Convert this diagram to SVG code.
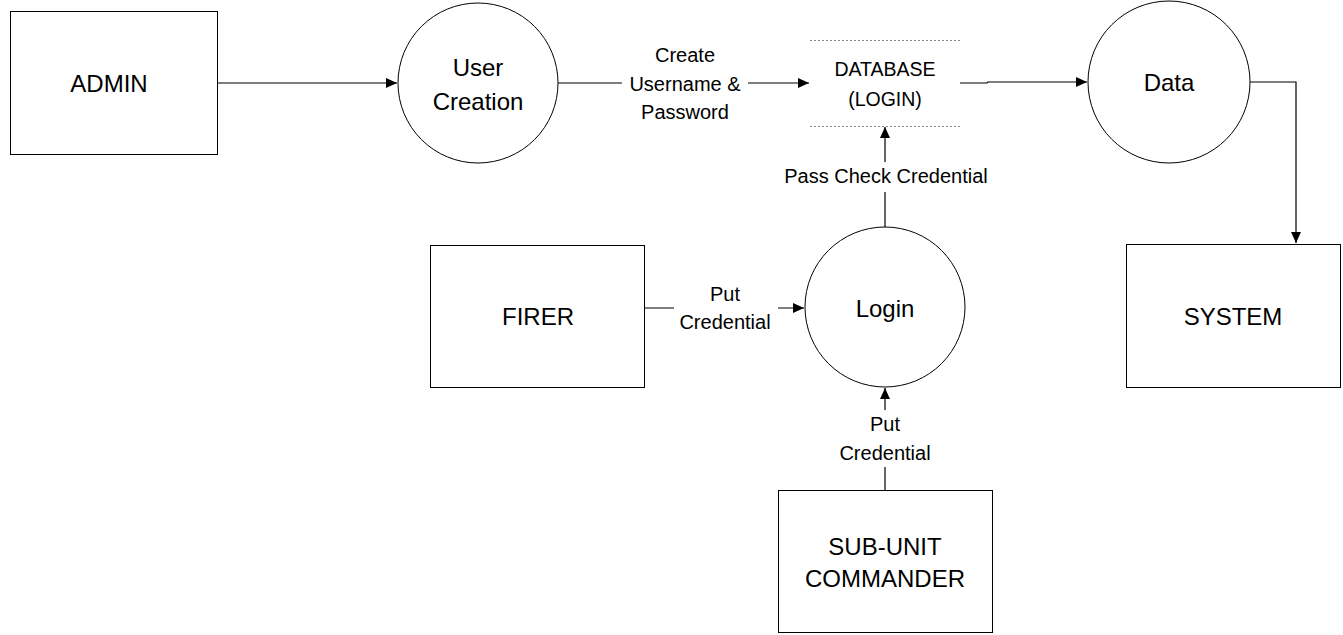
<svg xmlns="http://www.w3.org/2000/svg" width="1343" height="635" viewBox="0 0 1343 635">
<defs>
<marker id="arr" markerWidth="12" markerHeight="10" refX="11" refY="5" orient="auto" markerUnits="userSpaceOnUse">
<path d="M0,0 L11,5 L0,10 Z" fill="#000"/>
</marker>
<style>
.box{fill:#fff;stroke:#000;stroke-width:1}
.big{font-family:"Liberation Sans",Arial,sans-serif;font-size:24px;fill:#000;text-anchor:middle;dominant-baseline:central}
.lbl{font-family:"Liberation Sans",Arial,sans-serif;font-size:20px;fill:#000;text-anchor:middle;dominant-baseline:central}
.db{font-family:"Liberation Sans",Arial,sans-serif;font-size:19.5px;fill:#000;text-anchor:middle;dominant-baseline:central}
.ln{fill:none;stroke:#000;stroke-width:1.2}
.dash{stroke:#888;stroke-width:1;stroke-dasharray:2,2}
.bg{fill:#fff}
</style>
</defs>
<rect width="1343" height="635" fill="#fff"/>
<g id="connectors">
<line class="ln" x1="217" y1="83" x2="397" y2="83" marker-end="url(#arr)"/>
<line class="ln" x1="558" y1="83" x2="809" y2="83" marker-end="url(#arr)"/>
<rect class="bg" x="622" y="42" width="126" height="84"/>
<text class="lbl" x="685" y="55">Create</text>
<text class="lbl" x="685" y="84">Username &amp;</text>
<text class="lbl" x="685" y="112">Password</text>
<polyline class="ln" points="960,83 987,83 988,82 1087,82" marker-end="url(#arr)"/>
<polyline class="ln" points="1250,82 1296,82 1296,243" marker-end="url(#arr)"/>
<line class="ln" x1="645" y1="308" x2="804" y2="308" marker-end="url(#arr)"/>
<rect class="bg" x="674" y="281" width="104" height="55"/>
<text class="lbl" x="725" y="294">Put</text>
<text class="lbl" x="725" y="322">Credential</text>
<line class="ln" x1="885" y1="227" x2="885" y2="127" marker-end="url(#arr)"/>
<rect class="bg" x="778" y="162" width="216" height="30"/>
<text class="lbl" x="886" y="176">Pass Check Credential</text>
<line class="ln" x1="885" y1="490" x2="885" y2="388" marker-end="url(#arr)"/>
<rect class="bg" x="833" y="410" width="104" height="57"/>
<text class="lbl" x="885" y="424">Put</text>
<text class="lbl" x="885" y="453">Credential</text>
</g>
<g id="admin">
<rect class="box" x="10.5" y="11.5" width="207" height="143"/>
<text class="big" x="109" y="83">ADMIN</text>
</g>
<g id="user-creation">
<circle class="box" cx="478" cy="83" r="80"/>
<text class="big" x="478" y="67">User</text>
<text class="big" x="478" y="101">Creation</text>
</g>
<g id="database">
<line class="dash" x1="810" y1="40.5" x2="960" y2="40.5"/>
<line class="dash" x1="810" y1="126.5" x2="960" y2="126.5"/>
<text class="db" x="885" y="69">DATABASE</text>
<text class="db" x="885" y="99">(LOGIN)</text>
</g>
<g id="data">
<circle class="box" cx="1169" cy="82" r="81"/>
<text class="big" x="1169" y="82">Data</text>
</g>
<g id="system">
<rect class="box" x="1126.5" y="244.5" width="214" height="143"/>
<text class="big" x="1233" y="316">SYSTEM</text>
</g>
<g id="firer">
<rect class="box" x="430.5" y="245.5" width="214" height="142"/>
<text class="big" x="538" y="316">FIRER</text>
</g>
<g id="login">
<circle class="box" cx="885" cy="307" r="80"/>
<text class="big" x="885" y="308">Login</text>
</g>
<g id="sub-unit-commander">
<rect class="box" x="778.5" y="490.5" width="214" height="142"/>
<text class="big" x="885" y="546">SUB-UNIT</text>
<text class="big" x="885" y="578">COMMANDER</text>
</g>
</svg>
